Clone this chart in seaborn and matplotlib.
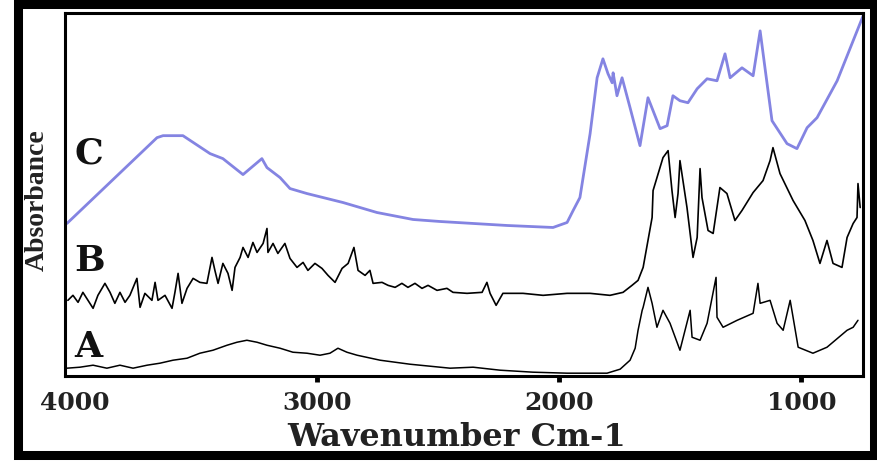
import matplotlib
matplotlib.use('Agg')
import matplotlib.pyplot as plt
from matplotlib.patches import Rectangle
import pandas as pd
import seaborn as sns

# Spectrum C (blue, smooth)
c_wavenumber = [4032, 3660, 3635, 3553, 3441, 3388, 3305, 3227, 3206, 3152, 3111, 3041,
                2892, 2752, 2603, 2492, 2215, 2025, 1967, 1942, 1914, 1872, 1843, 1819,
                1798, 1781, 1777, 1761, 1740, 1707, 1666, 1633, 1583, 1554, 1530, 1501,
                1468, 1430, 1389, 1348, 1315, 1294, 1245, 1199, 1170, 1150, 1121, 1059,
                1018, 976, 935, 852, 745]
c_absorbance = [1.53, 2.39, 2.41, 2.41, 2.23, 2.18, 2.02, 2.18, 2.09, 1.99, 1.88, 1.83,
                1.74, 1.64, 1.57, 1.55, 1.51, 1.49, 1.54, 1.66, 1.79, 2.43, 2.99, 3.18,
                3.03, 2.94, 3.04, 2.81, 2.99, 2.69, 2.31, 2.79, 2.48, 2.51, 2.81, 2.76,
                2.74, 2.88, 2.98, 2.96, 3.23, 2.99, 3.09, 3.01, 3.46, 3.09, 2.56, 2.33,
                2.28, 2.49, 2.59, 2.96, 3.61]

# Spectrum B (black, noisy)
b_wavenumber = [4028, 4007, 3986, 3966, 3945, 3924, 3904, 3875, 3854, 3834, 3813, 3792,
                3772, 3743, 3730, 3710, 3681, 3668, 3656, 3627, 3598, 3586, 3573, 3557,
                3536, 3511, 3483, 3454, 3433, 3421, 3408, 3388, 3367, 3350, 3338, 3317,
                3305, 3284, 3264, 3247, 3222, 3206, 3202, 3181, 3161, 3132, 3111, 3082,
                3057, 3037, 3008, 2979, 2954, 2925, 2896, 2871, 2847, 2830, 2801, 2781,
                2768, 2731, 2706, 2677, 2649, 2624, 2595, 2566, 2541, 2504, 2463, 2438,
                2380, 2318, 2298, 2285, 2260, 2232, 2149, 2066, 1967, 1872, 1790, 1736,
                1699, 1674, 1653, 1633, 1616, 1612, 1571, 1550, 1534, 1521, 1509, 1501,
                1472, 1447, 1430, 1418, 1410, 1385, 1364, 1336, 1307, 1274, 1245, 1199,
                1158, 1129, 1117, 1088, 1034, 985, 952, 923, 894, 869, 832, 811,
                786, 770, 766, 757]
b_absorbance = [0.76, 0.81, 0.74, 0.84, 0.76, 0.68, 0.81, 0.93, 0.84, 0.73, 0.84, 0.74,
                0.81, 0.98, 0.69, 0.83, 0.76, 0.94, 0.76, 0.81, 0.68, 0.84, 1.03, 0.73,
                0.88, 0.98, 0.94, 0.93, 1.19, 1.06, 0.93, 1.13, 1.03, 0.86, 1.09, 1.19,
                1.29, 1.19, 1.34, 1.24, 1.33, 1.48, 1.24, 1.33, 1.23, 1.33, 1.18, 1.09,
                1.14, 1.06, 1.13, 1.08, 1.01, 0.94, 1.08, 1.13, 1.29, 1.06, 1.01, 1.06,
                0.93, 0.94, 0.91, 0.89, 0.93, 0.89, 0.93, 0.88, 0.91, 0.86, 0.88, 0.84,
                0.83, 0.84, 0.94, 0.83, 0.71, 0.83, 0.83, 0.81, 0.83, 0.83, 0.81, 0.84,
                0.91, 0.96, 1.09, 1.36, 1.59, 1.86, 2.19, 2.26, 1.86, 1.59, 1.83, 2.16,
                1.69, 1.19, 1.39, 2.08, 1.79, 1.46, 1.43, 1.89, 1.83, 1.56, 1.66, 1.84,
                1.96, 2.16, 2.29, 2.03, 1.76, 1.56, 1.36, 1.13, 1.36, 1.13, 1.09, 1.39,
                1.53, 1.59, 1.93, 1.69]

# Spectrum A (black, noisy, lowest)
a_wavenumber = [4032, 3978, 3924, 3867, 3813, 3759, 3701, 3648, 3594, 3536, 3483, 3429,
                3371, 3330, 3289, 3247, 3206, 3152, 3099, 3041, 2987, 2946, 2913, 2876,
                2834, 2739, 2616, 2450, 2355, 2244, 2108, 1967, 1802, 1748, 1707, 1686,
                1674, 1657, 1653, 1633, 1616, 1596, 1571, 1542, 1501, 1459, 1451, 1418,
                1389, 1352, 1348, 1323, 1265, 1199, 1179, 1170, 1129, 1100, 1075, 1046,
                1034, 1013, 952, 894, 811, 786, 766]
a_absorbance = [0.08, 0.09, 0.11, 0.08, 0.11, 0.08, 0.11, 0.13, 0.16, 0.18, 0.23, 0.26,
                0.31, 0.34, 0.36, 0.34, 0.31, 0.28, 0.24, 0.23, 0.21, 0.23, 0.28, 0.24,
                0.21, 0.16, 0.12, 0.08, 0.09, 0.06, 0.04, 0.03, 0.03, 0.07, 0.16, 0.28,
                0.46, 0.66, 0.69, 0.89, 0.73, 0.49, 0.66, 0.53, 0.26, 0.66, 0.39, 0.36,
                0.53, 0.99, 0.59, 0.49, 0.56, 0.63, 0.93, 0.73, 0.76, 0.53, 0.46, 0.76,
                0.59, 0.29, 0.23, 0.29, 0.46, 0.49, 0.56]

x_ticks = [4000, 3000, 2000, 1000]
trace_labels = ['C', 'B', 'A']

sns.set_theme(style='white')

fig = plt.figure(figsize=(8.78, 4.61), dpi=100)
ax = fig.add_axes([0.074, 0.184, 0.909, 0.788])

df_c = pd.DataFrame({'wn': c_wavenumber, 'abs': c_absorbance})
df_b = pd.DataFrame({'wn': b_wavenumber, 'abs': b_absorbance})
df_a = pd.DataFrame({'wn': a_wavenumber, 'abs': a_absorbance})

sns.lineplot(data=df_c, x='wn', y='abs', ax=ax, color='#8484e2', lw=2.0,
             sort=False, estimator=None)
sns.lineplot(data=df_b, x='wn', y='abs', ax=ax, color='black', lw=1.2,
             sort=False, estimator=None)
sns.lineplot(data=df_a, x='wn', y='abs', ax=ax, color='black', lw=1.1,
             sort=False, estimator=None)

ax.set_xlim(4040, 745)
ax.set_ylim(0, 3.64)
ax.set_yticks([])
ax.set_xticks(x_ticks)
ax.set_xticklabels([str(t) for t in x_ticks], fontfamily='DejaVu Serif',
                   fontweight='bold', fontsize=18, color='#222222')
ax.tick_params(axis='x', direction='out', length=4, width=3.5, color='black',
               pad=7, bottom=True)
ax.xaxis.get_major_ticks()[0].tick1line.set_visible(False)
ax.set_xlabel('')
ax.set_ylabel('')
for sp in ax.spines.values():
    sp.set_visible(True)
    sp.set_color('black')
    sp.set_linewidth(2.2)

# letter labels for each spectrum
for lab, ypos in zip(trace_labels, [0.614, 0.317, 0.080]):
    ax.text(0.012, ypos, lab, transform=ax.transAxes, ha='left', va='center',
            fontfamily='DejaVu Serif', fontweight='bold', fontsize=26, color='#111111')

fig.text(0.520, 0.050, 'Wavenumber Cm-1', ha='center', va='center',
         fontfamily='DejaVu Serif', fontweight='bold', fontsize=23, color='#222222')
fig.text(0.042, 0.566, 'Absorbance', ha='center', va='center', rotation=90,
         fontfamily='Liberation Serif', fontweight='bold', fontsize=20, color='#222222')

# thick outer frame
fig.patches.append(Rectangle((0.020, 0.013), 0.9754, 0.978, transform=fig.transFigure,
                             fill=False, edgecolor='black', lw=6.5))

fig.savefig('out.png', dpi=100)
